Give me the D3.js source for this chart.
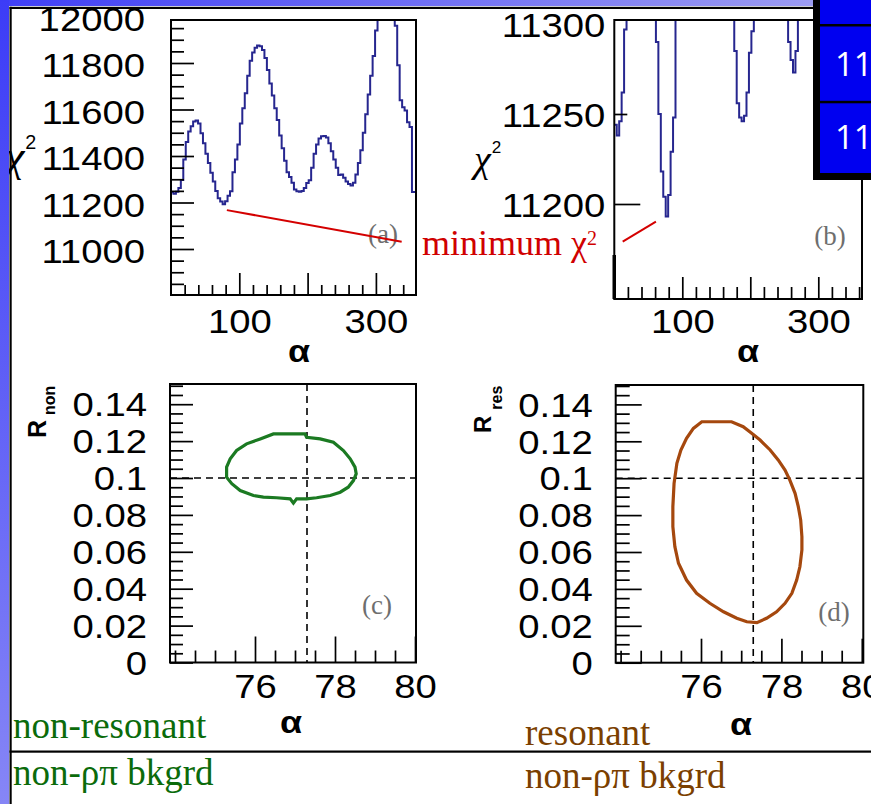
<!DOCTYPE html>
<html><head><meta charset="utf-8">
<script src="https://cdn.jsdelivr.net/npm/d3@7"></script>
<style>body{margin:0;background:#fff;} svg{display:block}</style>
</head><body>
<svg id="chart" width="871" height="804"></svg>
<script>
// ---------------- DATA ----------------
const alphaBinWidth = 3.6; // degrees per histogram bin (0..360)
const chi2Values = [
11244,11238,11246,11262,11297,11385,11460,11505,11528,11548,
11553,11540,11498,11455,11410,11370,11328,11290,11250,11218,
11204,11193,11205,11229,11248,11330,11385,11450,11540,11605,
11670,11745,11810,11845,11866,11875,11872,11856,11822,11770,
11712,11660,11605,11555,11488,11433,11380,11330,11310,11285,
11256,11248,11246,11249,11262,11284,11296,11350,11410,11450,
11475,11485,11486,11480,11455,11420,11385,11350,11318,11320,
11306,11290,11280,11273,11285,11320,11370,11425,11500,11580,
11665,11745,11830,11940,12020,12080,12120,12140,12130,12100,
12040,11960,11790,11640,11610,11596,11545,11525,11245,11245];
const chi2TicksA = [11000, 11200, 11400, 11600, 11800, 12000];
const chi2TicksB = [11200, 11250, 11300];
const alphaTicksWide = [0, 100, 200, 300];
const alphaLabelsWide = [100, 300];
const rTicks = [0, 0.02, 0.04, 0.06, 0.08, 0.1, 0.12, 0.14];
const alphaTicksNarrow = [76, 78, 80];
const alphaLabelsNarrow = [76, 78, 80];
const bestAlpha = 77.3;
const bestR = 0.1;
const contourNonResonant = [
[76.46,0.1239],[77.25,0.1239],[77.29,0.1221],[77.63,0.1212],[77.96,0.1194],[78.21,0.1149],
[78.38,0.1104],[78.50,0.1059],[78.53,0.1023],[78.46,0.0986],[78.33,0.0950],[78.13,0.0923],
[77.88,0.0905],[77.54,0.0893],[77.29,0.0887],[77.04,0.0887],[76.96,0.0864],[76.88,0.0887],
[76.54,0.0893],[76.21,0.0896],[75.96,0.0905],[75.63,0.0932],[75.42,0.0969],[75.29,0.1004],
[75.29,0.1059],[75.38,0.1104],[75.54,0.1149],[75.79,0.1185],[76.13,0.1212]];
const contourResonant = [
[76.02,0.1306],[76.76,0.1306],[77.05,0.1279],[77.26,0.1243],[77.47,0.1207],[77.72,0.1153],
[77.92,0.1099],[78.09,0.1044],[78.21,0.0990],[78.34,0.0918],[78.42,0.0846],[78.48,0.0773],
[78.51,0.0683],[78.51,0.0611],[78.46,0.0520],[78.38,0.0448],[78.26,0.0376],[78.09,0.0322],
[77.88,0.0276],[77.63,0.0241],[77.39,0.0217],[77.14,0.0222],[76.89,0.0241],[76.56,0.0276],
[76.22,0.0322],[75.89,0.0376],[75.64,0.0448],[75.44,0.0539],[75.35,0.0629],[75.30,0.0737],
[75.30,0.0846],[75.33,0.0972],[75.40,0.1081],[75.50,0.1153],[75.64,0.1216],[75.81,0.1270]];
const panelTags = ["(a)", "(b)", "(c)", "(d)"];
const boxCells = ["", "11", "11"];

// ---------------- DRAWING ----------------
const svg = d3.select("#chart");
const SANS = "Liberation Sans, Arial, sans-serif";
const SERIF = "Liberation Serif, Times New Roman, serif";
const SX = 1.16;
const defs = svg.append("defs");
svg.append("rect").attr("width", 871).attr("height", 804).attr("fill", "#fff");

function axes(g, o) {
  const f = o.frame;
  const ya = d3.axisLeft(o.y).tickValues(o.yMajor).tickSizeInner(-o.yMajLen).tickSizeOuter(0)
    .tickFormat(o.yFmt || (d => String(d)));
  const gy = g.append("g").attr("transform", `translate(${f.l},0)`).call(ya);
  gy.attr("font-family", SANS).attr("font-size", o.fs);
  gy.select(".domain").remove();
  gy.selectAll(".tick line").attr("stroke", "#000").attr("stroke-width", 1.7)
    .attr("x2", d => (o.yLen ? o.yLen(d) : o.yMajLen))
    .attr("display", d => (o.y(d) < f.t - 0.5 || o.y(d) > f.b + 0.5) ? "none" : null);
  gy.selectAll(".tick text").attr("x", 0).attr("dy", 0).attr("fill", "#000")
    .attr("transform", `translate(${-o.yPad},${o.yBase}) scale(${SX},1)`);
  if (o.yMinor) {
    const ym = d3.axisLeft(o.y).tickValues(o.yMinor).tickSizeInner(-o.yMinLen).tickSizeOuter(0).tickFormat("");
    const gm = g.append("g").attr("transform", `translate(${f.l},0)`).call(ym);
    gm.select(".domain").remove();
    gm.selectAll(".tick line").attr("stroke", "#000").attr("stroke-width", 1.7);
  }
  const xa = d3.axisBottom(o.x).tickValues(o.xMajor).tickSizeInner(-o.xMajLen).tickSizeOuter(0)
    .tickFormat(d => o.xLabels.includes(d) ? String(d) : "");
  const gx = g.append("g").attr("transform", `translate(0,${f.b})`).call(xa);
  gx.attr("font-family", SANS).attr("font-size", o.fs);
  gx.select(".domain").remove();
  gx.selectAll(".tick line").attr("stroke", "#000").attr("stroke-width", 1.7)
    .attr("display", d => (o.x(d) < f.l + 1 || o.x(d) > f.r - 1) ? "none" : null);
  gx.selectAll(".tick text").attr("y", 0).attr("dy", 0).attr("fill", "#000")
    .attr("transform", `translate(0,${o.xBase}) scale(${SX},1)`);
  const xm = d3.axisBottom(o.x).tickValues(o.xMinor).tickSizeInner(-o.xMinLen).tickSizeOuter(0).tickFormat("");
  const gxm = g.append("g").attr("transform", `translate(0,${f.b})`).call(xm);
  gxm.select(".domain").remove();
  gxm.selectAll(".tick line").attr("stroke", "#000").attr("stroke-width", 1.7)
    .attr("display", d => (o.x(d) < f.l + 1 || o.x(d) > f.r - 1) ? "none" : null);
}
function frameRect(g, f) {
  g.append("rect").attr("x", f.l).attr("y", f.t).attr("width", f.r - f.l).attr("height", f.b - f.t)
    .attr("fill", "none").attr("stroke", "#000").attr("stroke-width", 2);
}
function clip(id, f) {
  defs.append("clipPath").attr("id", id).append("rect")
    .attr("x", f.l).attr("y", f.t).attr("width", f.r - f.l).attr("height", f.b - f.t);
}
function tag(g, txt, x, y) {
  g.append("text").attr("x", x).attr("y", y).attr("font-family", SERIF).attr("font-size", 27)
    .attr("fill", "#6e6e6e").attr("text-anchor", "middle").text(txt);
}
function alphaTitle(g, x, y) {
  g.append("text").attr("transform", `translate(${x},${y}) scale(${SX},1)`).attr("text-anchor", "middle")
    .attr("font-family", SANS).attr("font-weight", "bold").attr("font-size", 31).text("α");
}
function chiTitle(g, x, y, size) {
  const t = g.append("text").attr("x", x).attr("y", y).attr("font-family", SERIF)
    .attr("font-style", "italic").attr("font-size", size);
  t.append("tspan").text("χ");
  t.append("tspan").attr("font-family", SANS).attr("font-style", "normal")
    .attr("font-size", size * 0.45).attr("dy", -size * 0.5).attr("dx", 1).text("2");
}

const histPts = chi2Values.map((v, i) => ({ a: i * alphaBinWidth, v }));
histPts.push({ a: chi2Values.length * alphaBinWidth, v: chi2Values[chi2Values.length - 1] });
const minIdx = d3.minIndex(chi2Values);
const minAlpha = (minIdx + 0.5) * alphaBinWidth;

// ---- panel (a)
{
  const f = { l: 171, t: 20, r: 416, b: 295 };
  const x = d3.scaleLinear().domain([0, 100]).range([171, 239.3]);
  const y = d3.scaleLinear().domain([11000, 11800]).range([249, 63]);
  const g = svg.append("g");
  clip("clipA", f);
  tag(g, panelTags[0], 383, 243);
  g.append("path").attr("clip-path", "url(#clipA)")
    .attr("d", d3.line().x(d => x(d.a)).y(d => y(d.v)).curve(d3.curveStepAfter)(histPts))
    .attr("fill", "none").attr("stroke", "#26268f").attr("stroke-width", 2);
  axes(g, { frame: f, x, y, fs: 33,
    yMajor: chi2TicksA, yMinor: d3.range(10800, 12001, 50).filter(v => v % 200 !== 0),
    yMajLen: 23, yMinLen: 13, yPad: 26, yBase: 13.5,
    xMajor: alphaTicksWide, xLabels: alphaLabelsWide, xMinor: d3.range(0, 361, 20).filter(v => v % 100 !== 0),
    xMajLen: 22, xMinLen: 10, xBase: 38 });
  frameRect(g, f);
  alphaTitle(g, 299, 362);
  chiTitle(g, 5, 171, 44);
  g.append("line").attr("x1", x(minAlpha) + 3).attr("y1", y(chi2Values[minIdx]) + 6)
    .attr("x2", 401.7).attr("y2", 241.7).attr("stroke", "#d40000").attr("stroke-width", 2);
}

// ---- panel (b)
{
  const f = { l: 614.3, t: 20, r: 862, b: 299 };
  const x = d3.scaleLinear().domain([0, 100]).range([614.3, 682.3]);
  const y = d3.scaleLinear().domain([11200, 11250]).range([204, 114]);
  const g = svg.append("g");
  clip("clipB", f);
  tag(g, panelTags[1], 830, 245);
  g.append("path").attr("clip-path", "url(#clipB)")
    .attr("d", d3.line().x(d => x(d.a)).y(d => y(d.v)).curve(d3.curveStepAfter)(histPts))
    .attr("fill", "none").attr("stroke", "#26268f").attr("stroke-width", 2);
  axes(g, { frame: f, x, y, fs: 33,
    yMajor: chi2TicksB, yLen: d => (d === 11200 ? 26 : d === 11250 ? 13 : 0),
    yMajLen: 26, yPad: 9, yBase: 12.5,
    xMajor: alphaTicksWide, xLabels: alphaLabelsWide, xMinor: d3.range(0, 361, 20).filter(v => v % 100 !== 0),
    xMajLen: 22, xMinLen: 12, xBase: 34 });
  frameRect(g, f);
  g.append("rect").attr("x", 612.5).attr("y", 255).attr("width", 3.5).attr("height", 44).attr("fill", "#000");
  alphaTitle(g, 748, 362);
  chiTitle(g, 474, 172, 38);
  g.append("line").attr("x1", 622.7).attr("y1", 241.7)
    .attr("x2", x(minAlpha) - 11).attr("y2", y(chi2Values[minIdx]) + 5)
    .attr("stroke", "#d40000").attr("stroke-width", 2);
}

// red annotation text
{
  const t = svg.append("text").attr("x", 422).attr("y", 255).attr("font-family", SERIF)
    .attr("font-size", 36).attr("fill", "#d00000");
  t.append("tspan").text("minimum χ");
  t.append("tspan").attr("font-size", 20).attr("dy", -10).text("2");
}

// ---- panels (c) and (d)
function contourPanel(o) {
  const f = o.frame;
  const x = d3.scaleLinear().domain([76, 80]).range([o.x76, o.x76 + 4 * o.pxPerUnit]);
  const y = d3.scaleLinear().domain([0, 0.14]).range([f.b, f.b - 0.14 * 1845]);
  const g = svg.append("g");
  clip(o.clipId, f);
  tag(g, o.tag, o.tagX, o.tagY);
  const gc = g.append("g").attr("clip-path", `url(#${o.clipId})`);
  gc.append("line").attr("x1", x(bestAlpha)).attr("x2", x(bestAlpha)).attr("y1", f.t).attr("y2", f.b)
    .attr("stroke", "#000").attr("stroke-width", 1.6).attr("stroke-dasharray", "7,5");
  gc.append("line").attr("x1", f.l).attr("x2", f.r).attr("y1", y(bestR)).attr("y2", y(bestR))
    .attr("stroke", "#000").attr("stroke-width", 1.6).attr("stroke-dasharray", "7,5");
  gc.append("path").attr("d", d3.line().x(d => x(d[0])).y(d => y(d[1])).curve(d3.curveLinearClosed)(o.data))
    .attr("fill", "none").attr("stroke", o.color).attr("stroke-width", 3.2);
  axes(g, { frame: f, x, y, fs: 33,
    yMajor: rTicks, yMinor: d3.range(0, 0.1501, 0.005).filter(v => Math.abs(v * 50 - Math.round(v * 50)) > 1e-6),
    yMajLen: o.yMajLen, yMinLen: o.yMinLen, yPad: 23, yBase: 11.7,
    xMajor: alphaTicksNarrow, xLabels: alphaLabelsNarrow,
    xMinor: d3.range(74, 80.01, 0.5).filter(v => !alphaTicksNarrow.includes(v)),
    xMajLen: o.xMajLen, xMinLen: 12, xBase: 35.5 });
  frameRect(g, f);
  alphaTitle(g, o.alphaX, o.alphaY);
  const t = g.append("text").attr("transform", `translate(${o.rX},${o.rY}) rotate(-90)`)
    .attr("font-family", SANS).attr("font-weight", "bold");
  t.append("tspan").attr("font-size", o.rSize).text("R");
  t.append("tspan").attr("font-size", o.subSize).attr("dy", o.subDy).attr("dx", o.subDx).text(o.sub);
}
contourPanel({ frame: { l: 170, t: 384, r: 416, b: 662.5 }, x76: 255, pxPerUnit: 40, clipId: "clipC",
  data: contourNonResonant, color: "#1b7a22", tag: panelTags[2], tagX: 377, tagY: 614,
  yMajLen: 23, yMinLen: 13, xMajLen: 26, alphaX: 291, alphaY: 733,
  rX: 46, rY: 438, rSize: 25, sub: "non", subSize: 16, subDy: 9, subDx: 5 });
contourPanel({ frame: { l: 615.7, t: 385, r: 863.3, b: 662.7 }, x76: 701, pxPerUnit: 40.2, clipId: "clipD",
  data: contourResonant, color: "#a5480e", tag: panelTags[3], tagX: 834, tagY: 621,
  yMajLen: 26, yMinLen: 14, xMajLen: 24, alphaX: 741, alphaY: 735,
  rX: 491, rY: 433, rSize: 24, sub: "res", subSize: 16, subDy: 11, subDx: 6 });

// ---- bottom texts
function label(x, y, txt, color) {
  svg.append("text").attr("x", x).attr("y", y).attr("font-family", SERIF).attr("font-size", 37)
    .attr("fill", color).text(txt);
}
label(13, 738, "non-resonant", "#0b6b0b");
label(13, 785, "non-ρπ bkgrd", "#0b6b0b");
label(525, 745, "resonant", "#7b3f00");
label(525, 788, "non-ρπ bkgrd", "#7b3f00");

// ---- slide decorations
const gTop = defs.append("linearGradient").attr("id", "gTop").attr("x1", 0).attr("x2", 1).attr("y1", 0).attr("y2", 0);
gTop.append("stop").attr("offset", 0).attr("stop-color", "#3f3ff6");
gTop.append("stop").attr("offset", 1).attr("stop-color", "#a2a2f2");
const gLeft = defs.append("linearGradient").attr("id", "gLeft").attr("x1", 0).attr("x2", 0).attr("y1", 0).attr("y2", 1);
gLeft.append("stop").attr("offset", 0).attr("stop-color", "#3c3cf7");
gLeft.append("stop").attr("offset", 1).attr("stop-color", "#8686f6");
svg.append("rect").attr("x", 0).attr("y", 0).attr("width", 871).attr("height", 6).attr("fill", "url(#gTop)");
svg.append("rect").attr("x", 6).attr("y", 6).attr("width", 865).attr("height", 0.8).attr("fill", "#fff");
svg.append("rect").attr("x", 0).attr("y", 0).attr("width", 9).attr("height", 804).attr("fill", "url(#gLeft)");
svg.append("rect").attr("x", 9.5).attr("y", 6.8).attr("width", 862).attr("height", 2.2).attr("fill", "#000");
svg.append("rect").attr("x", 9.5).attr("y", 6.8).attr("width", 2.2).attr("height", 946).attr("fill", "#000");
svg.append("rect").attr("x", 9.5).attr("y", 750.5).attr("width", 862).attr("height", 2.2).attr("fill", "#000");

// ---- blue table box (top right)
svg.append("rect").attr("x", 813).attr("y", 0).attr("width", 60).attr("height", 180).attr("fill", "#000");
const cellEdges = [0, 26.5, 103.3, 173];
boxCells.forEach((c, i) => {
  svg.append("rect").attr("x", 820).attr("y", cellEdges[i]).attr("width", 55)
    .attr("height", cellEdges[i + 1] - cellEdges[i] - (i < 2 ? 2.5 : 0)).attr("fill", "#0000f0");
  if (c) svg.append("text").attr("x", 835).attr("y", (cellEdges[i] + cellEdges[i + 1]) / 2 + 11)
    .attr("font-family", "Open Sans, DejaVu Sans, sans-serif").attr("font-size", 33).attr("fill", "#fff").text(c);
});
</script>
</body></html>
